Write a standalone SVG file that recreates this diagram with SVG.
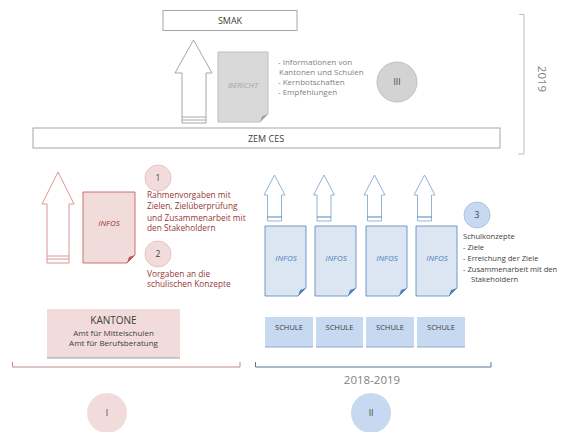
<svg xmlns="http://www.w3.org/2000/svg" width="572" height="432" viewBox="0 0 572 432">
<style>
text{font-family:"Open Sans","Liberation Sans",sans-serif}
.box{fill:#fff;stroke:#a6a6a6;stroke-width:1}
.lbl{font-size:9px;fill:#404040;text-anchor:middle}
.gray{font-size:8px;fill:#7f7f7f}
.red{font-size:8.3px;fill:#953735}
.blk{font-size:7.6px;fill:#404040}
.doc-i{font-size:8px;font-style:italic;text-anchor:middle}
.garrow{fill:#fff;stroke:#a6a6a6;stroke-width:1}
.parrow{fill:#fff;stroke:#d99694;stroke-width:1}
.barrow{fill:#fff;stroke:#95b3d7;stroke-width:1}
.gdoc{fill:#d9d9d9;stroke:#bfbfbf}
.pdoc{fill:#f2dcdb;stroke:#c0504d;stroke-width:0.8}
.bdoc{fill:#dce6f2;stroke:#4f81bd;stroke-width:0.8}
.num{font-size:8.5px;fill:#404040;text-anchor:middle}
</style>

<!-- SMAK -->
<g id="smak">
<rect class="box" x="163" y="10.5" width="134" height="20"/>
<text class="lbl" x="230" y="24">SMAK</text>
</g>

<!-- gray arrow -->
<g id="arrow-bericht">
<path class="garrow" d="M193.5,40 L212,73 L206,73 L206,123 L182,123 L182,73 L175,73 Z"/>
<line x1="182" y1="117" x2="206" y2="117" stroke="#a6a6a6"/>
<line x1="182" y1="120" x2="206" y2="120" stroke="#a6a6a6"/>
</g>

<!-- BERICHT doc -->
<g id="bericht">
<path class="gdoc" d="M218,52 H268 V114 L260,122 H218 Z"/>
<path d="M268,114 L260,122 L262,116 Z" fill="#a6a6a6"/>
<text class="doc-i" x="243" y="88" fill="#a6a6a6">BERICHT</text>
</g>

<g id="bericht-text">
<text class="gray" x="278" y="65">- Informationen von</text>
<text class="gray" x="279" y="75">Kantonen und Schulen</text>
<text class="gray" x="278" y="85">- Kernbotschaften</text>
<text class="gray" x="278" y="95">- Empfehlungen</text>
</g>

<g id="circle-iii">
<circle cx="397" cy="82" r="20" fill="#d3d3d3" stroke="#c0c0c0"/>
<text class="num" x="397" y="85">III</text>
</g>

<!-- ZEM CES -->
<g id="zemces">
<rect class="box" x="33" y="128" width="467" height="20"/>
<text class="lbl" x="266" y="141.5">ZEM CES</text>
</g>

<!-- 2019 bracket -->
<g id="bracket-2019">
<path d="M519,14.5 H524 V154 H518" fill="none" stroke="#bfbfbf" stroke-width="1"/>
<text x="541" y="79" transform="rotate(90 541 79)" font-size="11.5" fill="#7f7f7f" text-anchor="middle" dominant-baseline="middle">2019</text>
</g>

<!-- Left pink section -->
<g id="arrow-kantone">
<path class="parrow" d="M58,172 L74,204 L69,204 L69,263 L47,263 L47,204 L42,204 Z"/>
<line x1="47" y1="256" x2="69" y2="256" stroke="#d99694"/>
<line x1="47" y1="259" x2="69" y2="259" stroke="#d99694"/>
</g>

<g id="infos-kantone">
<path class="pdoc" d="M83,192 H135 V255 L127,263 H83 Z"/>
<path d="M135,255 L127,263 L129,257 Z" fill="#c0504d"/>
<text class="doc-i" x="109" y="226" fill="#953735">INFOS</text>
</g>

<g id="circle-1">
<circle cx="158" cy="178" r="13" fill="#f2dcdb" stroke="#e6c4c3"/>
<text class="num" x="158" y="181">1</text>
</g>
<g id="text-1">
<text class="red" x="147" y="198">Rahmenvorgaben mit</text>
<text class="red" x="147" y="209">Zielen, Zielüberprüfung</text>
<text class="red" x="147" y="221">und Zusammenarbeit mit</text>
<text class="red" x="147" y="231">den Stakeholdern</text>
</g>
<g id="circle-2">
<circle cx="158" cy="254" r="13" fill="#f2dcdb" stroke="#e6c4c3"/>
<text class="num" x="158" y="257">2</text>
</g>
<g id="text-2">
<text class="red" x="147" y="277">Vorgaben an die</text>
<text class="red" x="147" y="287">schulischen Konzepte</text>
</g>

<g id="kantone">
<rect x="47" y="309" width="133" height="49" fill="#f2dcdb"/>
<line x1="47" y1="358" x2="180" y2="358" stroke="#a0a0a0"/>
<text x="113.5" y="324" font-size="10" fill="#404040" text-anchor="middle">KANTONE</text>
<text x="113.5" y="336" font-size="8" fill="#404040" text-anchor="middle">Amt für Mittelschulen</text>
<text x="113.5" y="346" font-size="8" fill="#404040" text-anchor="middle">Amt für Berufsberatung</text>
</g>

<g id="bracket-i">
<path d="M12.5,362 V367 H240 V362" fill="none" stroke="#c08a89" stroke-width="1"/>
</g>
<g id="circle-i">
<circle cx="107" cy="413" r="20" fill="#f2dcdb"/>
<text class="num" x="107" y="416">I</text>
</g>

<!-- Right blue section -->
<g id="arrows-schulen">
<path class="barrow" d="M274.5,175 L285,195 L281.5,195 L281.5,221 L267.5,221 L267.5,195 L264,195 Z"/>
<line x1="267.5" y1="217" x2="281.5" y2="217" stroke="#4f81bd"/>
<path class="barrow" d="M324,175 L334.5,195 L331,195 L331,221 L317,221 L317,195 L313.5,195 Z"/>
<line x1="317" y1="217" x2="331" y2="217" stroke="#4f81bd"/>
<path class="barrow" d="M374.5,175 L385,195 L381.5,195 L381.5,221 L367.5,221 L367.5,195 L364,195 Z"/>
<line x1="367.5" y1="217" x2="381.5" y2="217" stroke="#4f81bd"/>
<path class="barrow" d="M424.5,175 L435,195 L431.5,195 L431.5,221 L417.5,221 L417.5,195 L414,195 Z"/>
<line x1="417.5" y1="217" x2="431.5" y2="217" stroke="#4f81bd"/>
</g>

<g id="infos-1">
<path class="bdoc" d="M265,226 H306 V288 L298,296 H265 Z"/>
<path d="M306,288 L298,296 L300,290 Z" fill="#4f81bd"/>
<text class="doc-i" x="286" y="261" fill="#4f81bd">INFOS</text>
</g>
<g id="infos-2">
<path class="bdoc" d="M315,226 H356 V288 L348,296 H315 Z"/>
<path d="M356,288 L348,296 L350,290 Z" fill="#4f81bd"/>
<text class="doc-i" x="336" y="261" fill="#4f81bd">INFOS</text>
</g>
<g id="infos-3">
<path class="bdoc" d="M366,226 H407 V288 L399,296 H366 Z"/>
<path d="M407,288 L399,296 L401,290 Z" fill="#4f81bd"/>
<text class="doc-i" x="387" y="261" fill="#4f81bd">INFOS</text>
</g>
<g id="infos-4">
<path class="bdoc" d="M416,226 H457 V288 L449,296 H416 Z"/>
<path d="M457,288 L449,296 L451,290 Z" fill="#4f81bd"/>
<text class="doc-i" x="437" y="261" fill="#4f81bd">INFOS</text>
</g>

<g id="circle-3">
<circle cx="477" cy="215" r="13" fill="#c6d9f1" stroke="#b0c4de"/>
<text class="num" x="477" y="218">3</text>
</g>
<g id="text-3">
<text class="blk" x="463" y="239">Schulkonzepte</text>
<text class="blk" x="463" y="250">- Ziele</text>
<text class="blk" x="463" y="261">- Erreichung der Ziele</text>
<text class="blk" x="463" y="271.5">- Zusammenarbeit mit den</text>
<text class="blk" x="471" y="282">Stakeholdern</text>
</g>

<g id="schule-1">
<rect x="265" y="317" width="48" height="30" fill="#c6d9f1"/>
<line x1="265" y1="347" x2="313" y2="347" stroke="#8ea9c8"/>
<text x="289" y="330" font-size="7.5" fill="#404040" text-anchor="middle">SCHULE</text>
</g>
<g id="schule-2">
<rect x="316" y="317" width="47" height="30" fill="#c6d9f1"/>
<line x1="316" y1="347" x2="363" y2="347" stroke="#8ea9c8"/>
<text x="339.5" y="330" font-size="7.5" fill="#404040" text-anchor="middle">SCHULE</text>
</g>
<g id="schule-3">
<rect x="366" y="317" width="48" height="30" fill="#c6d9f1"/>
<line x1="366" y1="347" x2="414" y2="347" stroke="#8ea9c8"/>
<text x="390" y="330" font-size="7.5" fill="#404040" text-anchor="middle">SCHULE</text>
</g>
<g id="schule-4">
<rect x="417" y="317" width="48" height="30" fill="#c6d9f1"/>
<line x1="417" y1="347" x2="465" y2="347" stroke="#8ea9c8"/>
<text x="441" y="330" font-size="7.5" fill="#404040" text-anchor="middle">SCHULE</text>
</g>

<g id="bracket-ii">
<path d="M255.5,362 V367 H491 V362" fill="none" stroke="#5a7394" stroke-width="1"/>
<text x="372" y="384" font-size="11.5" fill="#7f7f7f" text-anchor="middle">2018-2019</text>
</g>
<g id="circle-ii">
<circle cx="371" cy="413" r="20" fill="#c6d9f1"/>
<text class="num" x="371" y="416">II</text>
</g>
</svg>
